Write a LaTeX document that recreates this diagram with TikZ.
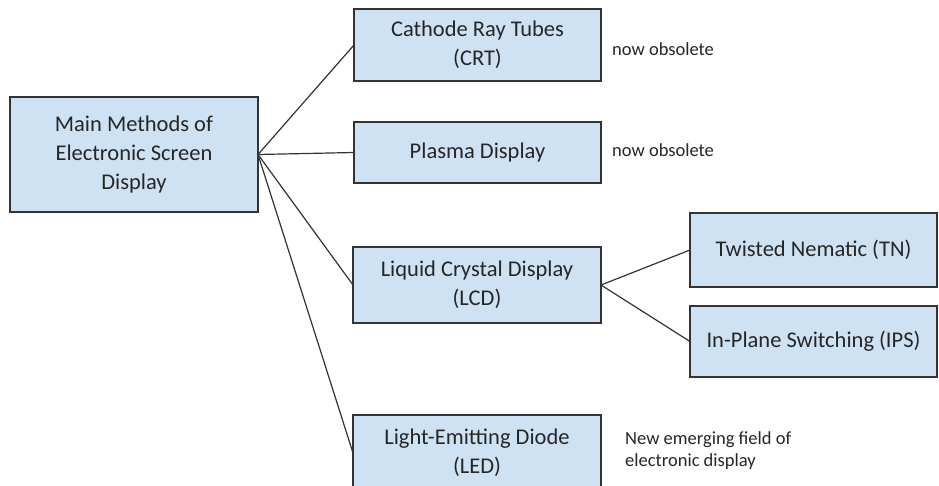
\documentclass[tikz,border=0pt]{standalone}
\usepackage{fontspec}
\setmainfont{Carlito}
\definecolor{boxfill}{HTML}{CFE2F3}
\definecolor{boxline}{HTML}{333333}
\definecolor{txt}{HTML}{262626}
\begin{document}
\begin{tikzpicture}[x=1pt,y=-1pt,
  box/.style={draw=boxline, fill=boxfill, line width=1.3pt, align=center, text=txt,
    font=\fontsize{22.5}{29}\selectfont, inner sep=0pt, outer sep=0pt},
  note/.style={anchor=west, align=left, text=txt, inner sep=0pt,
    font=\fontsize{18.5}{22}\selectfont},
  link/.style={draw=boxline, line width=1.2pt}]
\useasboundingbox (0,0) rectangle (939,486);
\fill[white] (0,0) rectangle (939,486);
\node[box, minimum width=248, minimum height=115] (main) at (134,154.5) {Main Methods of\\Electronic Screen\\Display};
\node[box, minimum width=247, minimum height=72] (crt) at (477.5,45) {Cathode Ray Tubes\\(CRT)};
\node[box, minimum width=247, minimum height=61] (plasma) at (477.5,152.5) {Plasma Display};
\node[box, minimum width=248, minimum height=76] (lcd) at (477,285) {Liquid Crystal Display\\(LCD)};
\node[box, minimum width=248, minimum height=76] (led) at (477,453) {Light-Emitting Diode\\(LED)};
\node[box, minimum width=247, minimum height=74] (tn) at (813.5,250) {Twisted Nematic (TN)};
\node[box, minimum width=247, minimum height=71] (ips) at (813.5,341.5) {In-Plane Switching (IPS)};
\node[note] (n1) at (612,49) {now obsolete};
\node[note] (n2) at (612,150) {now obsolete};
\node[note] (n3) at (625,451) {New emerging field of\\electronic display};
\draw[link] (main.east) -- (crt.west);
\draw[link] (main.east) -- (plasma.west);
\draw[link] (main.east) -- (lcd.west);
\draw[link] (main.east) -- (led.west);
\draw[link] (lcd.east) -- (tn.west);
\draw[link] (lcd.east) -- (ips.west);
\end{tikzpicture}
\end{document}
